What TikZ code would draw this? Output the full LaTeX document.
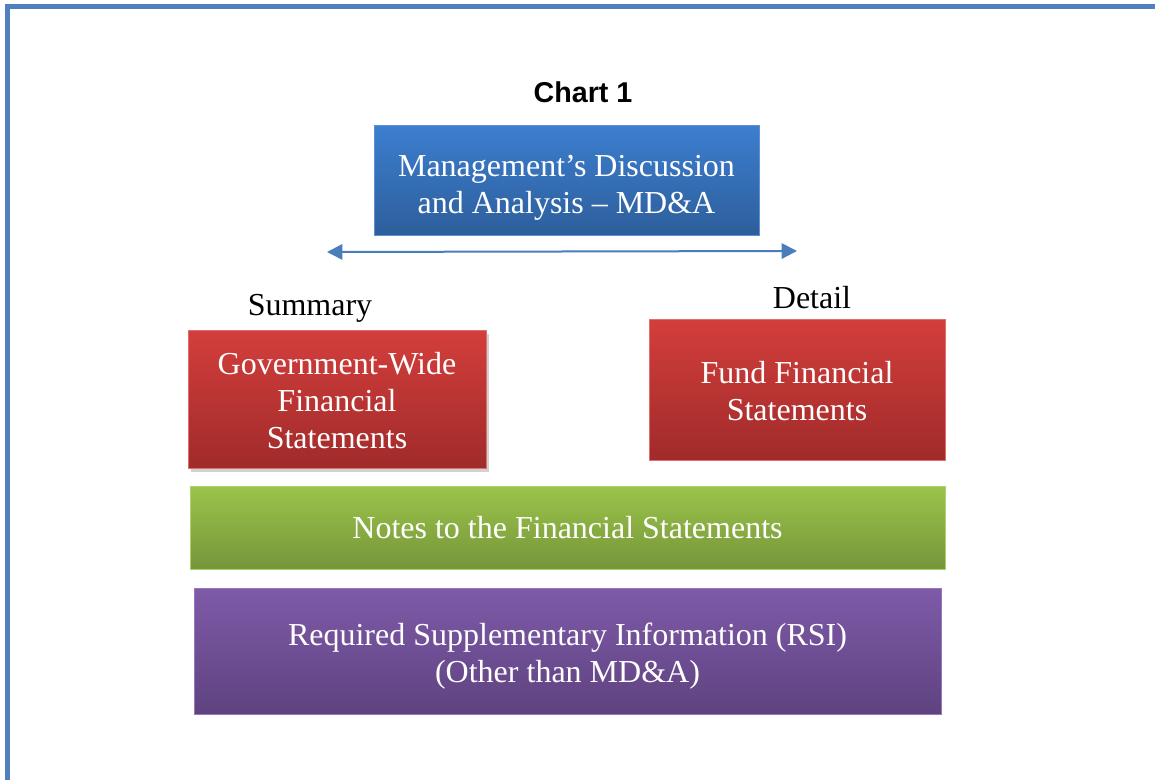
\documentclass[tikz,border=0pt]{standalone}
\usepackage{fontspec}
\setmainfont{Liberation Serif}
\setsansfont{Liberation Sans}
\usetikzlibrary{arrows.meta, shadows}
\definecolor{frameblue}{RGB}{79,129,189}
\definecolor{arrowblue}{RGB}{74,126,187}
\definecolor{mdatop}{RGB}{60,126,207}
\definecolor{mdabot}{RGB}{45,94,155}
\definecolor{mdaedge}{RGB}{95,145,210}
\definecolor{redtop}{RGB}{211,62,60}
\definecolor{redbot}{RGB}{160,43,42}
\definecolor{rededge}{RGB}{224,110,108}
\definecolor{greentop}{RGB}{155,196,74}
\definecolor{greenbot}{RGB}{118,149,58}
\definecolor{greenedge}{RGB}{175,210,110}
\definecolor{purpletop}{RGB}{126,90,168}
\definecolor{purplebot}{RGB}{95,67,128}
\definecolor{purpleedge}{RGB}{150,118,190}
\newcommand{\boxfont}{\fontsize{24}{27.75}\selectfont}
% pushes the lines of a panel a little lower
\newcommand{\droptext}[1]{\rule{0pt}{#1}}

\begin{document}
\begin{tikzpicture}[x=0.75pt, y=-0.75pt,
    panel/.style={rectangle, inner sep=0pt, outer sep=0pt, line width=0.75pt,
        align=center, text=white, font=\boxfont},
    bluepanel/.style={panel, draw=mdaedge, top color=mdatop, bottom color=mdabot},
    redpanel/.style={panel, draw=rededge, top color=redtop, bottom color=redbot},
    greenpanel/.style={panel, draw=greenedge, top color=greentop, bottom color=greenbot},
    purplepanel/.style={panel, draw=purpleedge, top color=purpletop, bottom color=purplebot},
    caption/.style={font=\boxfont, text=black, inner sep=0pt}]
    \useasboundingbox (0,0) rectangle (1155,780);
    \clip (0,0) rectangle (1155,780);

    % Page frame
    \draw[frameblue, line width=4pt] (7.5,800) -- (7.5,6.5) -- (1170,6.5);

    % Title
    \node[font=\sffamily\bfseries\fontsize{21.5}{24}\selectfont, inner sep=0pt] (title) at (583,92) {Chart 1};

    % MD&A on top
    \node[bluepanel, minimum width=288.75pt, minimum height=82.5pt] (mda) at (566.5,181)
        {\droptext{25.5pt}Management’s Discussion\\and Analysis -- MD\&A};

    % Summary <-> Detail range
    \coordinate (sumend) at (327,252);
    \coordinate (detend) at (797,251);
    \draw[arrowblue, line width=1.5pt,
        {Triangle[length=11.5pt, width=11.5pt]}-{Triangle[length=11.5pt, width=11.5pt]}]
        (sumend) -- (detend);
    \node[caption] (summary) at (310,308.5) {Summary};
    \node[caption] (detail) at (812,298) {Detail};

    % Financial statements
    \node[redpanel, minimum width=223.5pt, minimum height=103.5pt,
        drop shadow={shadow xshift=2pt, shadow yshift=-3pt, fill=black!60, opacity=0.3}] (govwide) at (337,399)
        {\droptext{19.5pt}Government-Wide\\Financial\\Statements};
    \node[redpanel, minimum width=222pt, minimum height=105.75pt] (fund) at (797,389.5)
        {\droptext{18.5pt}Fund Financial\\Statements};

    % Notes and RSI
    \node[greenpanel, minimum width=566.25pt, minimum height=62.25pt] (notes) at (567.5,527.5)
        {Notes to the Financial Statements};
    \node[purplepanel, minimum width=560.25pt, minimum height=94.5pt] (rsi) at (567.5,651)
        {\droptext{24.5pt}Required Supplementary Information (RSI)\\(Other than MD\&A)};
\end{tikzpicture}
\end{document}
